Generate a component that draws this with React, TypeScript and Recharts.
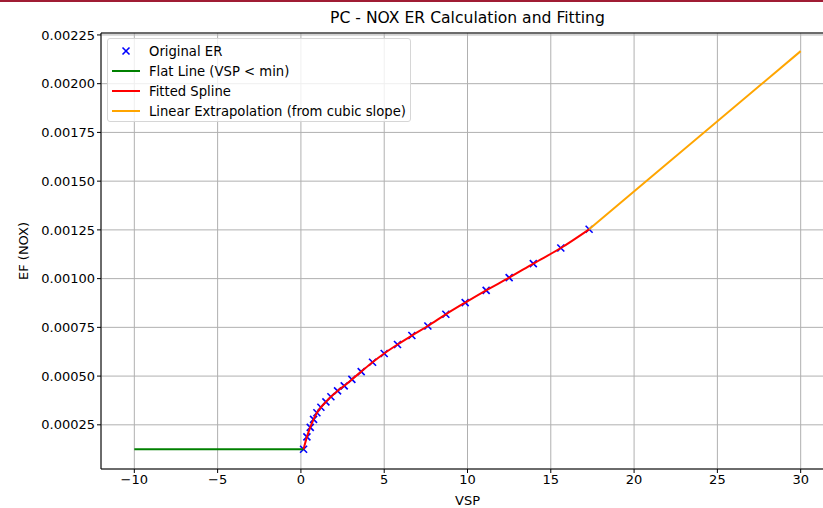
import React from 'react';
import {
  ComposedChart,
  Line,
  Scatter,
  XAxis,
  YAxis,
  CartesianGrid,
  ReferenceLine,
  Label,
} from 'recharts';

// Original ER points
const vsp = [0.16, 0.36, 0.56, 0.76, 0.96, 1.2, 1.5, 1.8, 2.2, 2.6, 3.06, 3.62, 4.3, 5.0, 5.8, 6.66, 7.62, 8.7, 9.86, 11.12, 12.5, 13.95, 15.6, 17.3];
const er = [0.000125, 0.000188, 0.000237, 0.000278, 0.000312, 0.00034, 0.000368, 0.000394, 0.000424, 0.00045, 0.000483, 0.000523, 0.000571, 0.000616, 0.000662, 0.000708, 0.000757, 0.000817, 0.000877, 0.00094, 0.001005, 0.001077, 0.001157, 0.001253];

const flatVsp = [-10, 0.16];
const flatEf = [0.000125, 0.000125];

const extVsp = [17.3, 30];
const extEf = [0.001253, 0.002167];

const xTicks = [-10, -5, 0, 5, 10, 15, 20, 25, 30];
const yTicks = [0.00025, 0.0005, 0.00075, 0.001, 0.00125, 0.0015, 0.00175, 0.002, 0.00225];

const legendItems = [
  { name: 'Original ER', color: '#0000ff', kind: 'marker' },
  { name: 'Flat Line (VSP < min)', color: '#008000', kind: 'line' },
  { name: 'Fitted Spline', color: '#ff0000', kind: 'line' },
  { name: 'Linear Extrapolation (from cubic slope)', color: '#ffa500', kind: 'line' },
];

const erData = vsp.map((x, i) => ({ x, y: er[i] }));
const flatData = flatVsp.map((x, i) => ({ x, y: flatEf[i] }));
const extData = extVsp.map((x, i) => ({ x, y: extEf[i] }));

const FONT = '"DejaVu Sans", sans-serif';

const Cross = (props: any) => {
  const { cx, cy } = props;
  if (cx == null || cy == null) return null;
  const s = 3.5;
  return (
    <g stroke="#0000ff" strokeWidth={1.6}>
      <line x1={cx - s} y1={cy - s} x2={cx + s} y2={cy + s} />
      <line x1={cx - s} y1={cy + s} x2={cx + s} y2={cy - s} />
    </g>
  );
};

const LegendBox = () => (
  <div
    style={{
      position: 'absolute',
      left: 107,
      top: 38,
      width: 302,
      height: 80,
      border: '1px solid #d6d6d6',
      borderRadius: 3,
      background: 'rgba(255,255,255,0.8)',
      fontFamily: FONT,
      fontSize: 13.2,
      color: '#000',
      paddingTop: 2,
      boxSizing: 'content-box',
    }}
  >
    {legendItems.map((item) => (
      <div key={item.name} style={{ display: 'flex', alignItems: 'center', height: 20 }}>
        <svg width={41} height={20} style={{ flex: 'none' }}>
          {item.kind === 'line' ? (
            <line x1={4} y1={10} x2={32} y2={10} stroke={item.color} strokeWidth={2} />
          ) : (
            <Cross cx={18} cy={10} />
          )}
        </svg>
        <span style={{ whiteSpace: 'nowrap' }}>{item.name}</span>
      </div>
    ))}
  </div>
);

const fmtX = (v: number) => String(v).replace('-', '\u2212');
const fmtY = (v: number) => v.toFixed(5);

export default function App() {
  return (
    <div style={{ position: 'absolute', left: 0, top: 0, width: 823, height: 508, overflow: 'hidden', background: '#fff' }}>
      <div style={{ position: 'absolute', left: 0, top: 0, width: 823, height: 2, background: '#a01c34' }} />
      <div
        style={{
          position: 'absolute',
          left: 101,
          width: 733,
          top: 9,
          textAlign: 'center',
          fontFamily: FONT,
          fontSize: 15.6,
          color: '#000',
        }}
      >
        PC - NOX ER Calculation and Fitting
      </div>
      <ComposedChart
        width={845}
        height={508}
        margin={{ top: 33, right: 11, bottom: 0, left: 0 }}
        style={{ position: 'absolute', left: 0, top: 0 }}
      >
        <CartesianGrid stroke="#b0b0b0" strokeWidth={1} />
        <XAxis
          type="number"
          dataKey="x"
          domain={[-12, 32]}
          ticks={xTicks}
          tickFormatter={fmtX}
          allowDataOverflow
          height={39}
          stroke="#000"
          tickSize={4}
          tick={{ fill: '#000', fontSize: 13, fontFamily: FONT }}
        >
          <Label
            content={({ viewBox }: any) => (
              <text
                x={viewBox.x + viewBox.width / 2}
                y={viewBox.y + 36}
                textAnchor="middle"
                fontFamily={FONT}
                fontSize={13}
                fill="#000"
              >
                VSP
              </text>
            )}
          />
        </XAxis>
        <YAxis
          type="number"
          dataKey="y"
          domain={[0.0000234, 0.00226]}
          ticks={yTicks}
          tickFormatter={fmtY}
          allowDataOverflow
          width={101}
          stroke="#000"
          tickSize={4}
          tick={{ fill: '#000', fontSize: 13, fontFamily: FONT }}
        >
          <Label
            content={({ viewBox }: any) => {
              const x = viewBox.x + 28;
              const y = viewBox.y + viewBox.height / 2;
              return (
                <text
                  x={x}
                  y={y}
                  transform={`rotate(-90 ${x} ${y})`}
                  textAnchor="middle"
                  fontFamily={FONT}
                  fontSize={13}
                  fill="#000"
                >
                  EF (NOX)
                </text>
              );
            }}
          />
        </YAxis>
        <ReferenceLine y={0.00226} stroke="#000" strokeWidth={1} />
        <Scatter data={erData} dataKey="y" name="Original ER" shape={<Cross />} zIndex={350} isAnimationActive={false} />
        <Line data={flatData} dataKey="y" name="Flat Line (VSP < min)" stroke="#008000" strokeWidth={2} dot={false} type="linear" isAnimationActive={false} />
        <Line data={erData} dataKey="y" name="Fitted Spline" stroke="#ff0000" strokeWidth={2} dot={false} type="monotone" isAnimationActive={false} />
        <Line data={extData} dataKey="y" name="Linear Extrapolation (from cubic slope)" stroke="#ffa500" strokeWidth={2} dot={false} type="linear" isAnimationActive={false} />
      </ComposedChart>
      <LegendBox />
    </div>
  );
}
